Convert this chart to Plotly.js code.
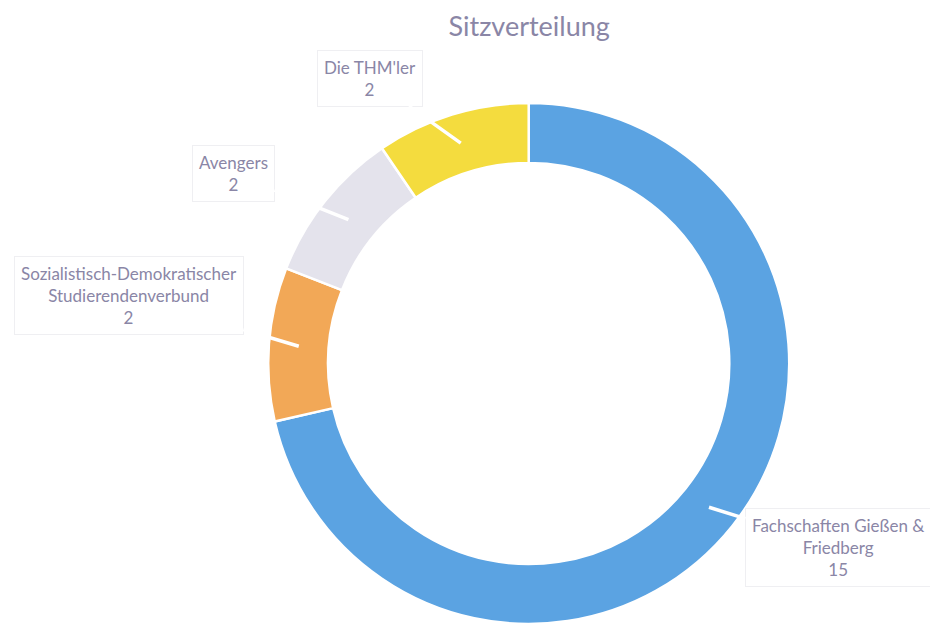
<!DOCTYPE html>
<html>
<head>
<meta charset="utf-8">
<script src="https://cdn.plot.ly/plotly-3.0.1.min.js"></script>
<style>html,body{margin:0;padding:0;background:#fff;}#chart{width:930px;height:624px;}</style>
</head>
<body>
<div id="chart"></div>
<script>
// Data
const parties = ["Fachschaften Gießen &<br>Friedberg", "Sozialistisch-Demokratischer<br>Studierendenverbund", "Avengers", "Die THM'ler"];
const seats = [15, 2, 2, 2];
const colors = ["#5ba3e2", "#f2a857", "#e4e3ec", "#f4dc3e"];
const chartTitle = "Sitzverteilung";

// Label callout offsets (pixels) from the tip at each slice's middle
const calloutOffsets = [[129, 40], [-170, -51], [-115, -46], [-91, -65]];

const W = 930, H = 624;
const dom = {x: [0.288, 0.849], y: [0, 0.835]};
const cx = (dom.x[0] + dom.x[1]) / 2 * W;
const R = Math.min((dom.x[1] - dom.x[0]) * W, (dom.y[1] - dom.y[0]) * H) / 2;
const cy = H - ((dom.y[0] + dom.y[1]) / 2 * H);
const hole = 0.77;
const tipR = R * (hole + (1 - hole) * 0.5);

const total = seats.reduce((a, b) => a + b, 0);
let cum = 0;
const annotations = [];
seats.forEach((v, i) => {
  const a0 = cum / total * 360;
  const a1 = (cum + v) / total * 360;
  cum += v;
  const ang = ((a0 + a1) / 2) * Math.PI / 180;
  const px = cx + tipR * Math.sin(ang);
  const py = cy - tipR * Math.cos(ang);
  annotations.push({
    x: px / W, y: 1 - py / H, xref: 'paper', yref: 'paper',
    text: parties[i] + '<br>' + v,
    showarrow: true, arrowhead: 0, arrowwidth: 3.5, arrowcolor: '#ffffff',
    ax: calloutOffsets[i][0], ay: calloutOffsets[i][1],
    bgcolor: '#ffffff', bordercolor: '#efeff2', borderwidth: 1, borderpad: 6,
    font: {family: 'Lato, sans-serif', size: 17, color: '#8a86a6'},
    align: 'center'
  });
});

const trace = {
  type: 'pie',
  labels: parties,
  values: seats,
  marker: {colors: colors, line: {color: '#ffffff', width: 2.5}},
  hole: hole,
  sort: false,
  direction: 'clockwise',
  rotation: 0,
  textinfo: 'none',
  hoverinfo: 'label+value',
  domain: dom,
  showlegend: false
};

const layout = {
  width: W, height: H,
  margin: {l: 0, r: 0, t: 0, b: 0},
  paper_bgcolor: '#ffffff',
  title: {text: chartTitle, x: 0.569, xanchor: 'center', y: 0.957, yanchor: 'middle',
          font: {family: 'Lato, sans-serif', size: 27, color: '#8a86a6'}},
  annotations: annotations,
  showlegend: false
};

Plotly.newPlot('chart', [trace], layout, {displayModeBar: false, staticPlot: true});
</script>
</body>
</html>
